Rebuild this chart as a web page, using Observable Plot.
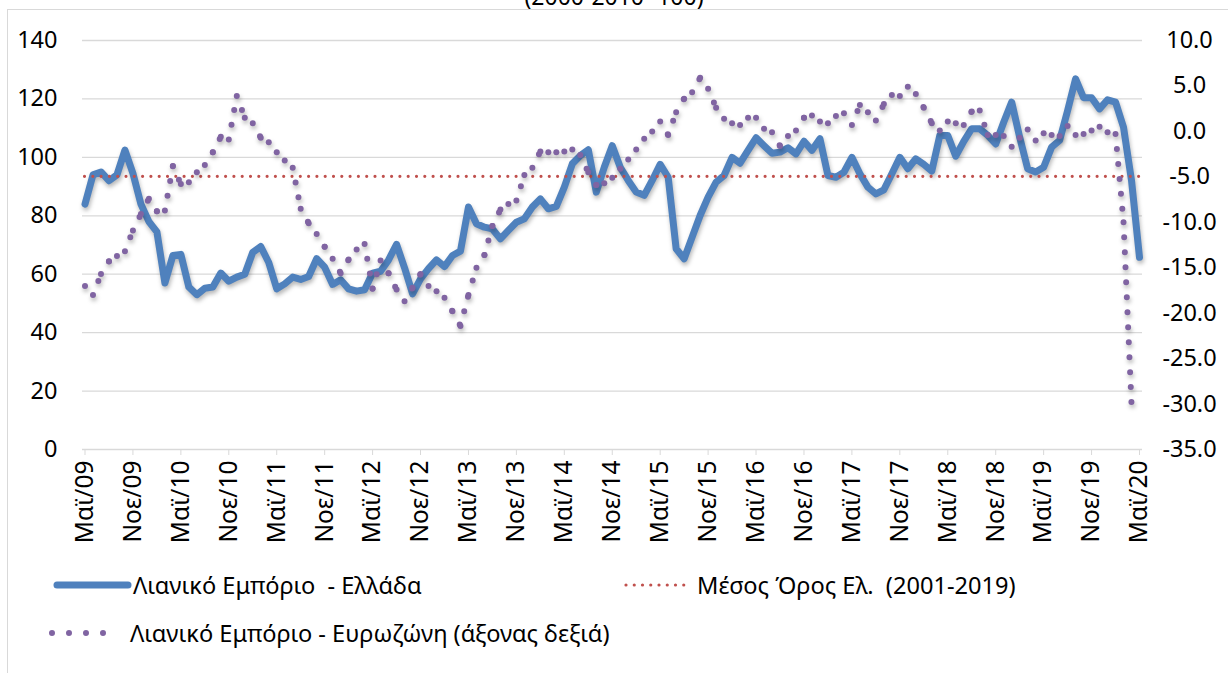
<!DOCTYPE html>
<html><head><meta charset="utf-8">
<script src="https://cdn.jsdelivr.net/npm/d3@7"></script>
<script src="https://cdn.jsdelivr.net/npm/@observablehq/plot@0.6"></script>
<style>
html,body{margin:0;padding:0;background:#fff;overflow:hidden;width:1228px;height:673px;}
body{position:relative;font-family:"Noto Sans",sans-serif;}
#frame{position:absolute;left:7px;top:9px;width:1300px;height:800px;border:1px solid #d9d9d9;}
#title{position:absolute;left:0;top:-19px;width:1228px;text-align:center;font-size:23px;line-height:30px;color:#000;}
#chart{position:absolute;left:0;top:0;}
.leg{position:absolute;display:flex;align-items:center;font-size:23.6px;white-space:pre;color:#000;height:30px;}
.leg svg{display:block;}
</style></head><body>
<div id="frame"></div>
<div id="title">(2000-2010=100)</div>
<div id="chart"></div>
<div id="legend"></div>
<script>
// ---- data ----
const tickLabels = ["Μαϊ/09","Νοε/09","Μαϊ/10","Νοε/10","Μαϊ/11","Νοε/11","Μαϊ/12","Νοε/12","Μαϊ/13","Νοε/13","Μαϊ/14","Νοε/14","Μαϊ/15","Νοε/15","Μαϊ/16","Νοε/16","Μαϊ/17","Νοε/17","Μαϊ/18","Νοε/18","Μαϊ/19","Νοε/19","Μαϊ/20"];
// Greece retail (left axis), monthly May 2009 - May 2020
const greece = [84,94,95,92,94,102.5,94.5,84,78,74.5,
  57,66.4,66.8,55.6,53,55.2,55.6,60.4,57.6,59,
  60,67.5,69.5,64,55,56.7,59,58.2,59.2,65.3,
  62.4,56.5,58.1,55,54.2,54.7,60.4,61,64.9,70.2,
  62.2,53.3,58.4,61.9,64.9,62.6,66.4,67.9,83,77.3,
  76.1,75.5,72.1,75,77.8,79,83,85.8,82.4,83.2,
  89.8,97.8,100.6,102.6,88.1,96.6,104,96.6,92.1,88.1,
  87,92.1,97.6,93.2,68.7,65.3,72.7,80.1,86.4,91.5,
  93.8,100,98,102.4,106.7,104,101.4,101.8,103.3,101.2,
  105.5,102.4,106.4,93.8,93.2,94.9,100,94.4,89.8,87.5,
  88.9,94.4,100,96.1,99.5,97.6,95.3,107.5,107.5,100.4,
  105.5,109.8,109.8,107.5,104.6,112,118.9,106.9,96.1,95,
  96.6,103.5,105.8,116,126.9,120.4,120.4,116.6,119.7,118.9,
  110.3,92.1,65.8];
// Eurozone retail (right axis), last month not available
const eurozone = [-17.0,-18.0,-15.7,-14.3,-13.7,-13.2,-10.9,-9.1,-7.4,-8.8,
  -8.7,-3.8,-5.8,-5.6,-4.5,-3.7,-2.3,-0.6,-0.9,3.9,
  1.5,0.9,-0.7,-1.2,-2.3,-3.2,-4.0,-8.5,-10.1,-11.3,
  -12.7,-14.0,-15.6,-14.1,-13.0,-12.4,-17.3,-14.2,-15.6,-17.4,
  -18.7,-17.2,-15.7,-17.0,-17.6,-18.3,-19.8,-21.4,-18.0,-15.0,
  -13.6,-10.4,-8.6,-8.0,-7.6,-4.8,-4.0,-2.2,-2.3,-2.3,
  -2.2,-2.0,-2.6,-4.5,-5.9,-5.7,-5.1,-4.1,-3.1,-2.0,
  -0.8,0.0,1.1,-0.4,2.1,3.6,4.3,5.9,4.7,2.6,
  1.4,0.9,0.7,1.5,1.5,0.3,-0.1,-1.6,-0.5,0.1,
  1.5,1.75,1.1,0.9,1.7,2.0,0.7,2.9,2.1,1.2,
  3.0,4.0,3.9,4.9,4.1,2.6,0.9,0.1,1.1,0.9,
  0.7,2.2,2.3,-0.4,-0.4,-0.5,-1.7,-0.7,0.2,-1.0,
  -0.2,-0.4,-0.5,0.6,-0.4,-0.3,0.1,0.5,-0.1,-0.3,
  -10.0,-30.0,null];
const meanGR = 93.5;
const leftTicks = [0,20,40,60,80,100,120,140];
const rightTicks = [-35,-30,-25,-20,-15,-10,-5,0,5,10];
const legendLabels = ["Λιανικό Εμπόριο  - Ελλάδα","Μέσος Όρος Ελ.  (2001-2019)","Λιανικό Εμπόριο - Ευρωζώνη (άξονας δεξιά)"];

// ---- derived ----
const C_BLUE = "#4F81BD", C_RED = "#C0504D", C_PURPLE = "#8064A2";
const L0 = 0, L1 = 140, R0 = -35, R1 = 10;
const toLeft = v => (v - R0) / (R1 - R0) * (L1 - L0) + L0;
const rightPos = rightTicks.map(toLeft);
const rightMap = new Map(rightTicks.map(v => [toLeft(v), v.toFixed(1)]));
const tickIdx = tickLabels.map((_, k) => k * 6);
const grData = greece.map((v, i) => ({i, v}));
const ezSegs = [];
for (let i = 0; i < eurozone.length - 1; i++) {
  if (eurozone[i] == null || eurozone[i + 1] == null) continue;
  ezSegs.push({x1: i, y1: toLeft(eurozone[i]), x2: i + 1, y2: toLeft(eurozone[i + 1])});
}

const W = 1228, H = 555;
const chart = Plot.plot({
  width: W, height: H,
  marginLeft: 82, marginRight: W - 1142, marginTop: 40, marginBottom: H - 449,
  x: {domain: [0, greece.length - 1], range: [84.5, 1139], axis: null},
  y: {domain: [L0, L1], range: [449, 40], axis: null},
  style: {fontFamily: '"Noto Sans", sans-serif', fontSize: "23px", color: "#000", background: "transparent", overflow: "visible"},
  marks: [
    Plot.gridY(leftTicks, {stroke: "#d9d9d9", strokeOpacity: 1, strokeWidth: 1.3}),
    Plot.axisY(leftTicks, {anchor: "left", tickSize: 0, tickPadding: 25, fontSize: 23.5, tickFormat: d => String(d)}),
    Plot.axisY(rightPos, {anchor: "right", tickSize: 0, tickPadding: 47, textAnchor: "middle", fontSize: 23.5, tickFormat: d => rightMap.get(d)}),
    Plot.axisX(tickIdx, {anchor: "bottom", tickSize: 6, tickPadding: 5, tickRotate: -90, stroke: "#d9d9d9", fill: "#000", fontSize: 24.5, tickFormat: d => tickLabels[d / 6]}),
    Plot.line(grData, {x: "i", y: "v", stroke: C_BLUE, strokeWidth: 7, strokeLinejoin: "round", strokeLinecap: "round"}),
    Plot.ruleY([meanGR], {x1: 0, x2: greece.length - 1, stroke: C_RED, strokeWidth: 3.2, strokeDasharray: "0 8.3", strokeLinecap: "round"}),
    Plot.link(ezSegs, {x1: "x1", y1: "y1", x2: "x2", y2: "y2", stroke: C_PURPLE, strokeWidth: 6, strokeDasharray: "0 15", strokeLinecap: "round"})
  ]
});
chart.querySelectorAll('g[aria-label="line"], g[aria-label="link"]').forEach(g => {
  g.style.filter = "drop-shadow(1px 3px 2px rgba(0,0,0,0.28))";
});
document.getElementById("chart").appendChild(chart);

// ---- legend ----
const legend = document.getElementById("legend");
function legItem(left, top, swW, swatch, label) {
  const d = document.createElement("div");
  d.className = "leg";
  d.style.left = left + "px"; d.style.top = top + "px";
  d.innerHTML = `<svg width="${swW}" height="30">${swatch}</svg><span>${label}</span>`;
  legend.appendChild(d);
}
legItem(52, 570, 81, `<line x1="5" y1="15" x2="76" y2="15" stroke="${C_BLUE}" stroke-width="7" stroke-linecap="round"/>`, legendLabels[0]);
legItem(622, 570, 75, `<line x1="4" y1="15" x2="70" y2="15" stroke="${C_RED}" stroke-width="3.2" stroke-dasharray="0 8.25" stroke-linecap="round"/>`, legendLabels[1]);
legItem(46, 618, 84, `<line x1="6" y1="15" x2="74" y2="15" stroke="${C_PURPLE}" stroke-width="6" stroke-dasharray="0 17" stroke-linecap="round"/>`, legendLabels[2]);
</script>
</body></html>
